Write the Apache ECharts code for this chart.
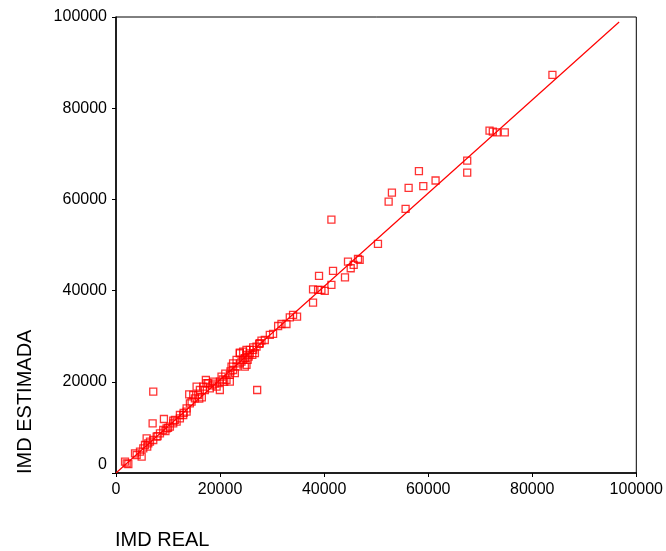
<!DOCTYPE html>
<html>
<head>
<meta charset="utf-8">
<script src="https://cdn.jsdelivr.net/npm/echarts@6/dist/echarts.min.js"></script>
<style>
html,body{margin:0;padding:0;background:#fff;}
#chart{width:666px;height:551px;}
</style>
</head>
<body>
<div id="chart"></div>
<script>
// IMD REAL (x) vs IMD ESTIMADA (y)
const points = [
  [83880,87300],
  [71790,75080],[72420,74860],[73190,74710],[74720,74710],
  [67500,68500],[67500,65870],
  [50350,50230],[55660,57910],[52400,59510],[53030,61480],[56240,62510],[58220,66180],[59060,62890],[61420,64140],
  [41400,55560],
  [44590,46350],[45110,44900],[45680,45620],[46510,46940],[46830,46720],[41710,44310],[44010,42920],[39020,43210],
  [37870,40290],[38840,40140],[39480,40140],[40120,39920],[41400,41240],[37870,37360],
  [34030,34660],[34800,34290],[33400,34150],[32760,32680],[31800,32680],
  [31160,32240],[30190,30490],[29560,30270],[28600,29170],[27960,29020],[27510,28300],[26360,27570],[25720,26980],
  [25080,26980],[24430,26610],[23800,26390],
  [24800,25200],[25500,25500],[26200,25900],[26700,26300],[25300,24800],
  [23170,24790],[22500,24060],[22200,23330],[24120,24420],[25080,23690],
  [7160,17830],[27130,18200],[7040,10900],[9210,11840],[14070,17260],[17270,20400],
  [2050,2130],[1730,2480],[2370,1970],[3650,4320],[3970,3950],[4930,3580],[4610,4680],[5890,7610],
  [5240,5420],[5570,6140],[6200,6510],[6530,6870],[7160,7240],[7810,7960],[8450,8700],[9080,9430],
  [9720,9800],[10360,10160],[11000,10900],[11650,11250],[12280,12000],[12920,12720],[13570,13450],
  [11320,11630],[12280,12720],[13570,14190],[14200,15290],[14530,15640],[15160,16380],[15800,17110],
  [16120,18200],[15490,18930],[16760,18930],[17720,19680],[18680,20030],[19330,18930],[19960,18200],
  [20280,21120],[21240,20400],[21880,21500],[22500,22590],[23170,23330],[23800,24060],[24430,24790],
  [25080,25880],[25720,26250],[26360,26980],[27010,27700],[27640,28450],[23800,26250],[18040,18580],
  [17080,18200],[14840,17110],[21880,20030],[22840,21900],[24760,23330],[19960,20030],[17400,19680],
  [8000,8100],[10000,9900],[11000,11500],[16500,16600],[18500,19200],[20500,20500],[21000,21800],
  [22000,22300],[19000,19600],[20800,20000],[16000,16300],[13000,13200],[9500,9200],[6000,5800]
];
const fitLine = [[0,0],[96700,98900]];
const ticks = [0,20000,40000,60000,80000,100000];

const chart = echarts.init(document.getElementById('chart'));
const axisTxt = {color:'#000', fontFamily:'Liberation Sans, Arial, sans-serif', fontSize:16};
chart.setOption({
  animation:false,
  grid:{left:116,right:29,top:17,bottom:78,show:true,borderColor:'#000',borderWidth:1},
  xAxis:{type:'value',min:ticks[0],max:ticks[ticks.length-1],interval:20000,
    axisLine:{show:true,onZero:false,lineStyle:{color:'#000',width:1.5}},
    axisTick:{show:true,length:4,lineStyle:{color:'#000'}},
    splitLine:{show:false},
    axisLabel:Object.assign({margin:9,formatter:function(v){return String(v);}},axisTxt)},
  yAxis:{type:'value',min:ticks[0],max:ticks[ticks.length-1],interval:20000,
    axisLine:{show:true,onZero:false,lineStyle:{color:'#000',width:1.5}},
    axisTick:{show:true,length:4,lineStyle:{color:'#000'}},
    splitLine:{show:false},
    axisLabel:Object.assign({margin:9,formatter:function(v){return v===0?'{z|0}':String(v);},
      rich:{z:Object.assign({padding:[0,0,16,0]},axisTxt)}},axisTxt)},
  series:[
    {type:'line',data:fitLine,symbol:'none',lineStyle:{color:'#ff0000',width:1.2},z:2,silent:true},
    {type:'scatter',data:points,symbol:'rect',symbolSize:7,
      itemStyle:{color:'rgba(255,255,255,0)',borderColor:'#ff0000',borderWidth:1.3},z:3}
  ],
  graphic:[
    {type:'text',left:115,top:530,style:{text:'IMD REAL',fill:'#000',font:'20px Liberation Sans, Arial, sans-serif'}},
    {type:'text',x:15,y:474,rotation:Math.PI/2,style:{text:'IMD ESTIMADA',fill:'#000',font:'20px Liberation Sans, Arial, sans-serif',textAlign:'left',textVerticalAlign:'top'}}
  ]
});
</script>
</body>
</html>
